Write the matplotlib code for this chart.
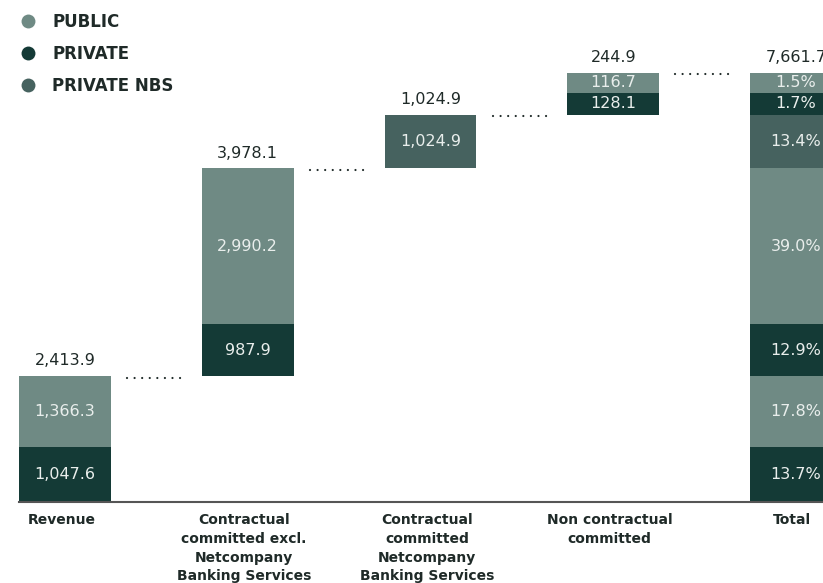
import numpy as np
import matplotlib.pyplot as plt
from matplotlib.lines import Line2D

# ── data ──────────────────────────────────
categories = ["Revenue",
              "Contractual\ncommitted excl.\nNetcompany\nBanking Services",
              "Contractual\ncommitted\nNetcompany\nBanking Services",
              "Non contractual\ncommitted",
              "Total"]
private_vals = [1047.6, 987.9, 0.0, 128.1]
public_vals = [1366.3, 2990.2, 0.0, 116.7]
nbs_vals = [0.0, 0.0, 1024.9, 0.0]
step_totals = [2413.9, 3978.1, 1024.9, 244.9]
grand_total = 7661.7

# small step is drawn stretched so its labels fit
stretch = [1.0, 1.0, 1.0, 3.3]

C_PUBLIC = "#6f8a84"
C_PRIVATE = "#143a36"
C_NBS = "#46625f"
TXT = "#1f2a28"
LBL = "#e9eeec"

fig = plt.figure(figsize=(8.23, 5.83), dpi=100)
ax = fig.add_axes([0, 1 - 502 / 583, 1, 502 / 583])
ax.set_xlim(-65 / 182.75, (823 - 65) / 182.75)
ax.set_ylim(0, 502 / 0.0522)
ax.axis("off")

width = 0.503
base = 0.0
total_segments = []   # (display height, value, colour)
for i in range(4):
    segs = [(private_vals[i], C_PRIVATE), (public_vals[i], C_PUBLIC), (nbs_vals[i], C_NBS)]
    bottom = base
    for val, col in segs:
        if val <= 0:
            continue
        h = val * stretch[i]
        ax.bar(i, h, width, bottom=bottom, color=col, linewidth=0)
        ax.text(i, bottom + h / 2, f"{val:,.1f}", ha="center", va="center",
                color=LBL, fontsize=11.5)
        total_segments.append((h, val, col))
        bottom += h
    ax.text(i, bottom + 290, f"{step_totals[i]:,.1f}", ha="center", va="center",
            color=TXT, fontsize=11.5)
    # dotted connector to next bar
    ax.plot([i + 0.34, i + 0.66], [bottom - 30, bottom - 30], color=TXT,
            linestyle=(0, (0.01, 3.4)), linewidth=1.6, dash_capstyle="round")
    base = bottom

# total bar
bottom = 0.0
for h, val, col in total_segments:
    ax.bar(4, h, width, bottom=bottom, color=col, linewidth=0)
    ax.text(4, bottom + h / 2, f"{val / grand_total * 100:.1f}%", ha="center",
            va="center", color=LBL, fontsize=11.5)
    bottom += h
ax.text(4, bottom + 290, f"{grand_total:,.1f}", ha="center", va="center",
        color=TXT, fontsize=11.5, clip_on=False)

# baseline
ax.plot([-0.25, 5], [0, 0], color="#555555", linewidth=1.5, clip_on=False)

for i, cat in enumerate(categories):
    ax.text(i - 0.02, -220, cat, ha="center", va="top", fontsize=10,
            fontweight="bold", color=TXT, linespacing=1.42, clip_on=False)

handles = [Line2D([], [], marker="o", linestyle="none", markersize=10,
                  markerfacecolor=c, markeredgewidth=0)
           for c in (C_PUBLIC, C_PRIVATE, C_NBS)]
leg = fig.legend(handles, ["PUBLIC", "PRIVATE", "PRIVATE NBS"], loc="upper left",
                 bbox_to_anchor=(0.0035, 1.0035), frameon=False, handletextpad=0.85,
                 labelspacing=0.84, prop={"weight": "bold", "size": 12},
                 handlelength=1.2)
for t in leg.get_texts():
    t.set_color(TXT)

fig.savefig("out.png", dpi=100)
